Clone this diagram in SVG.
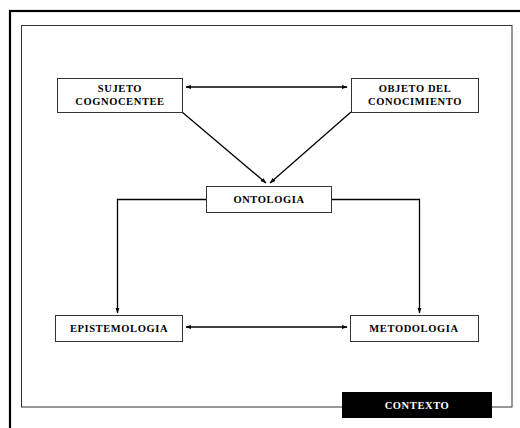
<svg xmlns="http://www.w3.org/2000/svg" width="520" height="428" viewBox="0 0 520 428">
<style>
.box{fill:#fff;stroke:#333;stroke-width:1}
.t{font-family:"Liberation Serif","Times New Roman",serif;font-weight:bold;font-size:10.5px;letter-spacing:0.6px;fill:#000;text-anchor:middle}
.c{fill:none;stroke:#000;stroke-width:1.3}
</style>
<defs>
<marker id="ah" viewBox="0 0 10 10" refX="9" refY="5" markerWidth="6" markerHeight="6" orient="auto-start-reverse" markerUnits="userSpaceOnUse">
<path d="M0,1.5 L10,5 L0,8.5 Z" fill="#000"/>
</marker>
</defs>
<rect x="0" y="0" width="520" height="428" fill="#fff"/>
<rect id="outer" x="10" y="11" width="530" height="440" fill="none" stroke="#000" stroke-width="2.2"/>
<rect id="inner" x="21.5" y="25.5" width="490.5" height="381.5" fill="none" stroke="#333" stroke-width="1"/>
<g id="connectors">
<line class="c" x1="186" y1="87" x2="347" y2="87" marker-start="url(#ah)" marker-end="url(#ah)"/>
<line class="c" x1="182" y1="112" x2="266" y2="183" marker-end="url(#ah)"/>
<line class="c" x1="351" y1="112" x2="270" y2="183" marker-end="url(#ah)"/>
<polyline class="c" points="206,199.5 117.5,199.5 117.5,313" marker-end="url(#ah)"/>
<polyline class="c" points="332,199.5 419.5,199.5 419.5,313" marker-end="url(#ah)"/>
<line class="c" x1="186" y1="327" x2="347" y2="327" marker-start="url(#ah)" marker-end="url(#ah)"/>
</g>
<g id="sujeto">
<rect class="box" x="57.5" y="78.5" width="125" height="34"/>
<text class="t" x="120" y="92">SUJETO</text>
<text class="t" x="120" y="105">COGNOCENTEE</text>
</g>
<g id="objeto">
<rect class="box" x="351.5" y="78.5" width="127" height="34"/>
<text class="t" x="415" y="92">OBJETO DEL</text>
<text class="t" x="415" y="105">CONOCIMIENTO</text>
</g>
<g id="ontologia">
<rect class="box" x="206.5" y="186.5" width="125" height="26"/>
<text class="t" x="269" y="203">ONTOLOGIA</text>
</g>
<g id="epistemologia">
<rect class="box" x="55.5" y="315.5" width="127" height="26"/>
<text class="t" x="119" y="332">EPISTEMOLOGIA</text>
</g>
<g id="metodologia">
<rect class="box" x="350.5" y="315.5" width="128" height="26"/>
<text class="t" x="414" y="332">METODOLOGIA</text>
</g>
<g id="contexto">
<rect x="342" y="392" width="150" height="26" fill="#000"/>
<text class="t" x="417" y="409" style="fill:#fff">CONTEXTO</text>
</g>
</svg>
